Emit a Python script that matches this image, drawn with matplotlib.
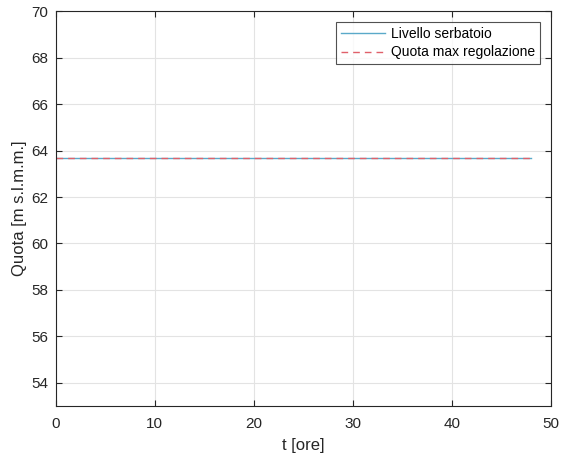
import matplotlib
matplotlib.use("Agg")
import matplotlib.pyplot as plt

t_ore = [0, 12, 24, 36, 48]
livello = [63.7, 63.7, 63.7, 63.7, 63.7]
quota_max = [63.7, 63.7, 63.7, 63.7, 63.7]

x_ticks = [0, 10, 20, 30, 40, 50]
y_ticks = [54, 56, 58, 60, 62, 64, 66, 68, 70]

plt.rcParams['font.family'] = ['Liberation Sans', 'DejaVu Sans']
fig = plt.figure(figsize=(5.63, 4.57), dpi=100)
ax = fig.add_axes([0.0986, 0.1116, 0.880, 0.8637])

ax.plot(t_ore, livello, color='#5aa9c9', lw=1.0, label='Livello serbatoio')
ax.plot(t_ore, quota_max, color='#e0606a', lw=1.0, ls=(0, (4.8, 3.6)), label='Quota max regolazione')

ax.set_xlim(0, 50)
ax.set_ylim(53, 70)
ax.set_xticks(x_ticks)
ax.set_yticks(y_ticks)
ax.grid(True, color='#e3e3e3', lw=0.8)
ax.set_axisbelow(True)
for s in ax.spines.values():
    s.set_color('#262626')
    s.set_linewidth(0.8)
ax.tick_params(direction='in', length=4, color='#262626', labelcolor='#262626', labelsize=11,
               top=True, right=True, labeltop=False, labelright=False)
ax.tick_params(axis='x', pad=8)
ax.tick_params(axis='y', pad=5)
ax.set_xlabel('t [ore]', fontsize=12, color='#262626', labelpad=5)
ax.set_ylabel('Quota [m s.l.m.m.]', fontsize=12, color='#262626', labelpad=3)

leg = ax.legend(loc='upper right', fontsize=10, frameon=True, fancybox=False, edgecolor='#262626',
                handlelength=3.2, borderaxespad=0.8, borderpad=0.35, labelspacing=0.3, handletextpad=0.4)
leg.get_frame().set_linewidth(0.8)

fig.savefig('out.png', dpi=100)
